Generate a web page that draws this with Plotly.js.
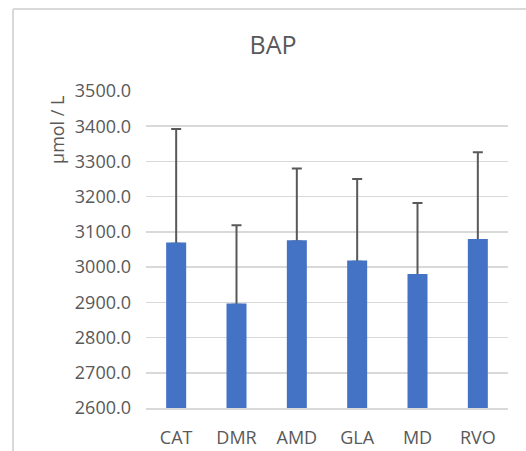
<!DOCTYPE html>
<html>
<head>
<meta charset="utf-8">
<script src="https://cdn.plot.ly/plotly-3.0.1.min.js"></script>
<style>
html,body{margin:0;padding:0;background:#fff;}
#chart{width:526px;height:451px;}
</style>
</head>
<body>
<div id="chart"></div>
<script>
var categories = ["CAT", "DMR", "AMD", "GLA", "MD", "RVO"];
var meanValues = [3066, 2893, 3073, 3015, 2977, 3076];
var sdValues = [326, 226, 207, 235, 205, 250];
var zeroValues = [0, 0, 0, 0, 0, 0];
var yTickValues = [2600, 2700, 2800, 2900, 3000, 3100, 3200, 3300, 3400, 3500];

var textColor = "#595959";
var fontFamily = "'Open Sans', 'Noto Sans', sans-serif";

var errTrace = {
  type: "bar",
  x: categories,
  y: meanValues,
  width: 0.29,
  marker: {color: "rgba(0,0,0,0)"},
  error_y: {
    type: "data",
    symmetric: false,
    array: sdValues,
    arrayminus: zeroValues,
    color: "#595959",
    thickness: 2,
    width: 5
  },
  hoverinfo: "skip",
  showlegend: false
};

var barTrace = {
  type: "bar",
  x: categories,
  y: meanValues,
  width: 0.29,
  marker: {color: "#4472C4", line: {color: "#4472C4", width: 2.5}},
  showlegend: false
};

var layout = {
  width: 526,
  height: 451,
  margin: {l: 146, r: 18, t: 91, b: 43, pad: 0},
  paper_bgcolor: "#ffffff",
  plot_bgcolor: "#ffffff",
  barmode: "overlay",
  font: {family: fontFamily, color: textColor, size: 18},
  title: {
    text: "BAP",
    font: {family: fontFamily, size: 25, color: textColor},
    xref: "container", x: 0.519, xanchor: "center",
    yref: "container", y: 0.900, yanchor: "middle"
  },
  xaxis: {
    type: "category",
    showgrid: false,
    showline: true,
    linecolor: "#d9d9d9",
    linewidth: 1.5,
    ticks: "",
    tickfont: {family: fontFamily, size: 18, color: textColor},
    ticklabelstandoff: 13
  },
  yaxis: {
    range: [2600, 3500],
    tickvals: yTickValues,
    tickformat: ".1f",
    showgrid: true,
    gridcolor: "#d9d9d9",
    gridwidth: 1.5,
    zeroline: false,
    showline: false,
    ticks: "",
    tickfont: {family: fontFamily, size: 18, color: textColor},
    ticklabelstandoff: 14
  },
  annotations: [{
    text: "µmol / L",
    xref: "paper", yref: "paper",
    x: (57 - 146) / 362, y: 1 - (130 - 91) / 317,
    xanchor: "center", yanchor: "middle",
    textangle: -90,
    showarrow: false,
    font: {family: fontFamily, size: 18, color: textColor}
  }],
  shapes: [
    {type: "line", xref: "paper", yref: "paper",
     x0: (13 - 146) / 362, x1: (13 - 146) / 362,
     y0: 1 + (91 - 9) / 317, y1: -0.3,
     line: {color: "#d9d9d9", width: 2}},
    {type: "line", xref: "paper", yref: "paper",
     x0: (13 - 146) / 362, x1: 1.2,
     y0: 1 + (91 - 9) / 317, y1: 1 + (91 - 9) / 317,
     line: {color: "#d9d9d9", width: 2}}
  ]
};

Plotly.newPlot("chart", [errTrace, barTrace], layout, {displayModeBar: false, staticPlot: true});
</script>
</body>
</html>
